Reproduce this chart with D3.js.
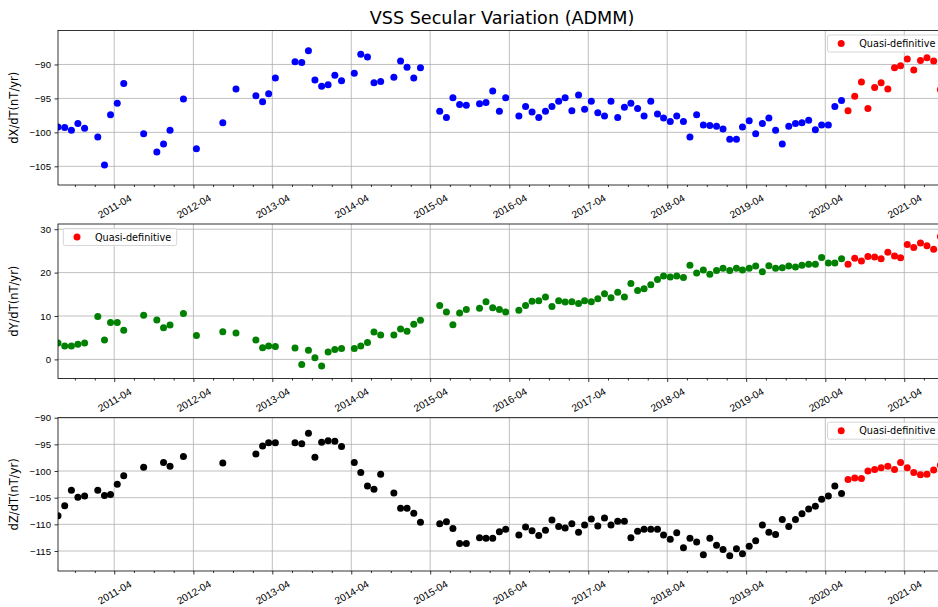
<!DOCTYPE html>
<html>
<head>
<meta charset="utf-8">
<script src="https://cdn.jsdelivr.net/npm/d3@7"></script>
<style>
    body { margin: 0; background: #fff; }
    svg { font-family: "DejaVu Sans", sans-serif; }
    .grid line { stroke: #b0b0b0; stroke-width: 0.8; }
    .axis path { display: none; }
    .axis line { stroke: #000; stroke-width: 0.8; }
</style>
</head>
<body>
<script>
// definitive monthly values (one line per year)
const defMonths = [
    "2010-07","2010-08","2010-09","2010-10","2010-11",
    "2011-01","2011-02","2011-03","2011-04","2011-05","2011-08","2011-10","2011-11","2011-12",
    "2012-02","2012-04","2012-08","2012-10",
    "2013-01","2013-02","2013-03","2013-04","2013-07","2013-08","2013-09","2013-10","2013-11","2013-12",
    "2014-01","2014-02","2014-04","2014-05","2014-06","2014-07","2014-08","2014-10","2014-11","2014-12",
    "2015-01","2015-02","2015-05","2015-06","2015-07","2015-08","2015-09","2015-11","2015-12",
    "2016-01","2016-02","2016-03","2016-05","2016-06","2016-07","2016-08","2016-09","2016-10","2016-11","2016-12",
    "2017-01","2017-02","2017-03","2017-04","2017-05","2017-06","2017-07","2017-08","2017-09","2017-10","2017-11","2017-12",
    "2018-01","2018-02","2018-03","2018-04","2018-05","2018-06","2018-07","2018-08","2018-09","2018-10","2018-11","2018-12",
    "2019-01","2019-02","2019-03","2019-04","2019-05","2019-06","2019-07","2019-08","2019-09","2019-10","2019-11","2019-12",
    "2020-01","2020-02","2020-03","2020-04","2020-05","2020-06"
];
const dX = [
    -99.2, -99.3, -99.7, -98.7, -99.4,
    -100.7, -104.8, -97.4, -95.7, -92.8, -100.2, -102.9, -101.7, -99.7,
    -95.1, -102.4, -98.6, -93.6,
    -94.6, -95.5, -94.3, -92.0, -89.6, -89.7, -88.0, -92.3, -93.2, -93.0,
    -91.6, -92.4, -91.3, -88.5, -88.9, -92.7, -92.5, -91.9, -89.5, -90.4,
    -92.0, -90.5, -96.9, -97.8, -94.9, -95.9, -96.0, -95.8, -95.6,
    -93.9, -96.9, -94.9, -97.6, -96.2, -97.0, -97.8, -96.9, -96.2, -95.4, -94.9,
    -96.8, -94.5, -96.6, -95.4, -97.1, -97.6, -95.4, -97.8, -96.3, -95.7, -96.5, -97.6,
    -95.4, -97.3, -97.9, -98.4, -97.6, -98.4, -100.7, -97.4, -98.9, -99.0, -99.1, -99.5,
    -101.0, -101.0, -99.2, -98.3, -100.2, -98.7, -97.9, -99.7, -101.7, -99.1, -98.7, -98.6,
    -98.2, -99.6, -98.9, -98.9, -96.2, -95.3
];
const dY = [
    3.8, 3.1, 3.1, 3.5, 3.8,
    9.9, 4.5, 8.5, 8.5, 6.7, 10.2, 9.1, 7.3, 7.9,
    10.6, 5.5, 6.4, 6.1,
    4.5, 2.7, 3.1, 3.0, 2.6, -1.2, 2.1, 0.4, -1.5, 1.7,
    2.3, 2.5, 2.5, 3.1, 3.9, 6.3, 5.6, 5.6, 7.0, 6.5,
    8.1, 9.0, 12.4, 10.9, 8.0, 10.7, 11.5, 11.8, 13.3,
    11.9, 11.5, 10.9, 11.3, 12.4, 13.4, 13.5, 14.4, 12.2, 13.5, 13.2,
    13.3, 12.9, 13.5, 13.3, 14.0, 15.1, 14.2, 15.5, 14.4, 17.5, 15.9, 16.3,
    17.2, 18.4, 19.2, 19.0, 19.2, 18.9, 21.7, 19.9, 20.6, 19.6, 20.5, 21.0,
    20.5, 21.0, 20.6, 21.0, 21.5, 20.2, 21.6, 21.0, 21.1, 21.5, 21.3, 21.7,
    21.9, 21.9, 23.5, 22.2, 22.2, 23.2
];
const dZ = [
    -108.4, -106.5, -103.6, -104.9, -104.7,
    -103.6, -104.6, -104.4, -102.5, -100.9, -99.3, null, -98.4, -99.1,
    -97.3, null, -98.5, null,
    -96.8, -95.3, -94.7, -94.7, -94.7, -94.9, -92.9, -97.4, -94.6, -94.3,
    -94.4, -95.4, -98.4, -100.3, -102.8, -103.4, -100.6, -104.1, -107.0, -107.0,
    -107.9, -109.6, -109.9, -109.5, -110.8, -113.6, -113.6, -112.5, -112.6,
    -112.6, -111.4, -110.9, -112.0, -110.5, -111.2, -112.1, -111.1, -109.2, -110.4, -110.7,
    -109.9, -111.5, -110.1, -109.0, -110.3, -108.8, -110.1, -109.4, -109.4, -112.5, -111.3, -110.9,
    -110.9, -110.9, -112.0, -112.8, -111.6, -114.4, -112.6, -113.3, -115.7, -112.6, -113.9, -114.7,
    -115.9, -114.6, -115.5, -114.1, -113.1, -110.1, -111.5, -111.9, -109.1, -110.4, -109.1, -108.0,
    -107.1, -106.6, -105.3, -104.7, -102.8, -104.2
];

// quasi-definitive values
const qdMonths = [
    "2020-07","2020-08","2020-09","2020-10","2020-11","2020-12",
    "2021-01","2021-02","2021-03","2021-04","2021-05","2021-06","2021-07","2021-08","2021-09"
];
const qdX = [-96.8, -94.7, -92.6, -96.5, -93.4, -92.7, -93.6, -90.5, -90.2, -89.2, -90.8, -89.4, -89.0, -89.5, -93.7];
const qdY = [21.9, 23.3, 22.7, 23.7, 23.6, 23.2, 24.7, 23.8, 23.4, 26.5, 25.8, 26.8, 26.2, 25.4, 28.3];
const qdZ = [-101.6, -101.3, -101.4, -100.0, -99.7, -99.4, -99.1, -99.7, -98.4, -99.4, -100.3, -100.7, -100.6, -99.8, -98.9];

const width = 938, height = 607;
const left = 58, right = 946;

const toDate = d3.timeParse("%Y-%m-%d");
const mid = m => toDate(m + "-15");

const svg = d3.select("body").append("svg")
    .attr("width", width)
    .attr("height", height);

const x = d3.scaleTime()
    .domain([mid("2010-07"), toDate("2021-10-11")])
    .range([left, right]);

const majorTicks = d3.timeMonth.range(toDate("2011-04-01"), toDate("2021-05-01"), 12);
const minorTicks = d3.timeMonth.range(toDate("2010-10-01"), toDate("2021-10-02"), 3)
    .filter(d => d.getMonth() !== 3);

svg.append("text")
    .attr("x", (left + right) / 2)
    .attr("y", 18)
    .attr("text-anchor", "middle")
    .attr("dominant-baseline", "central")
    .style("font-size", "17.6px")
    .text("VSS Secular Variation (ADMM)");

const panels = [
    { label: "dX/dT(nT/yr)", def: dX, qd: qdX, color: "#0000ff", top: 30.5, bottom: 185,
      domain: [-107.75, -85.0], ticks: [-105, -100, -95, -90], legend: "right" },
    { label: "dY/dT(nT/yr)", def: dY, qd: qdY, color: "#008000", top: 224, bottom: 378.5,
      domain: [-4.4, 31.2], ticks: [0, 10, 20, 30], legend: "left" },
    { label: "dZ/dT(nT/yr)", def: dZ, qd: qdZ, color: "#000000", top: 417.7, bottom: 571,
      domain: [-118.75, -90], ticks: [-115, -110, -105, -100, -95, -90], legend: "right" }
];

svg.append("defs").selectAll("clipPath")
    .data(panels)
    .join("clipPath")
    .attr("id", (d, i) => "clip" + i)
    .append("rect")
    .attr("x", left).attr("y", d => d.top)
    .attr("width", right - left).attr("height", d => d.bottom - d.top);

panels.forEach((p, i) => {
    const y = d3.scaleLinear().domain(p.domain).range([p.bottom, p.top]);
    const g = svg.append("g");

    // grid
    const grid = g.append("g").attr("class", "grid");
    grid.selectAll(".gx").data(majorTicks).join("line")
        .attr("x1", d => x(d)).attr("x2", d => x(d))
        .attr("y1", p.top).attr("y2", p.bottom);
    grid.selectAll(".gy").data(p.ticks).join("line")
        .attr("x1", left).attr("x2", right)
        .attr("y1", d => y(d)).attr("y2", d => y(d));

    // points
    const pts = g.append("g").attr("clip-path", `url(#clip${i})`);
    const defData = defMonths.map((m, k) => ({ date: mid(m), v: p.def[k] })).filter(d => d.v != null);
    const qdData = qdMonths.map((m, k) => ({ date: mid(m), v: p.qd[k] }));
    pts.selectAll(".def").data(defData).join("circle")
        .attr("cx", d => x(d.date)).attr("cy", d => y(d.v))
        .attr("r", 3.5).attr("fill", p.color);
    pts.selectAll(".qd").data(qdData).join("circle")
        .attr("cx", d => x(d.date)).attr("cy", d => y(d.v))
        .attr("r", 3.5).attr("fill", "#ff0000");

    // x axis
    const xAxis = g.append("g").attr("class", "axis")
        .attr("transform", `translate(0,${p.bottom})`)
        .call(d3.axisBottom(x).tickValues(majorTicks).tickSize(3.5)
            .tickFormat(d3.timeFormat("%Y-%m")));
    xAxis.selectAll("text")
        .attr("y", null).attr("dy", null)
        .attr("dominant-baseline", "central")
        .attr("text-anchor", "middle")
        .attr("transform", "translate(0,21.5) rotate(-30)")
        .style("font-size", "10.2px").attr("fill", "#000");
    g.append("g").attr("class", "axis")
        .attr("transform", `translate(0,${p.bottom})`)
        .call(d3.axisBottom(x).tickValues(minorTicks).tickSize(2).tickFormat(""));

    // y axis
    const yAxis = g.append("g").attr("class", "axis")
        .attr("transform", `translate(${left},0)`)
        .call(d3.axisLeft(y).tickValues(p.ticks).tickSize(3.5).tickPadding(3.5)
            .tickFormat(d3.format("d")));
    yAxis.selectAll("text").style("font-size", "9.6px").attr("fill", "#000");

    // spines
    g.append("rect")
        .attr("x", left).attr("y", p.top)
        .attr("width", right - left).attr("height", p.bottom - p.top)
        .attr("fill", "none").attr("stroke", "#000").attr("stroke-width", 0.8);

    g.append("text")
        .attr("transform", `translate(14,${(p.top + p.bottom) / 2}) rotate(-90)`)
        .attr("text-anchor", "middle")
        .attr("dominant-baseline", "central")
        .style("font-size", "11.5px")
        .text(p.label);

    // legend
    const lx = p.legend === "right" ? right - 118.5 : left + 5.3;
    const ly = p.top + 4.5;
    const leg = g.append("g").attr("transform", `translate(${lx},${ly})`);
    leg.append("rect")
        .attr("width", 113.4).attr("height", 17)
        .attr("rx", 2)
        .attr("fill", "#fff").attr("fill-opacity", 0.8)
        .attr("stroke", "#cccccc").attr("stroke-width", 0.8);
    leg.append("circle").attr("cx", 13.7).attr("cy", 8.5).attr("r", 3.5).attr("fill", "#ff0000");
    leg.append("text")
        .attr("x", 31.7).attr("y", 8.5)
        .attr("dominant-baseline", "central")
        .style("font-size", "9.7px")
        .text("Quasi-definitive");
});
</script>
</body>
</html>
